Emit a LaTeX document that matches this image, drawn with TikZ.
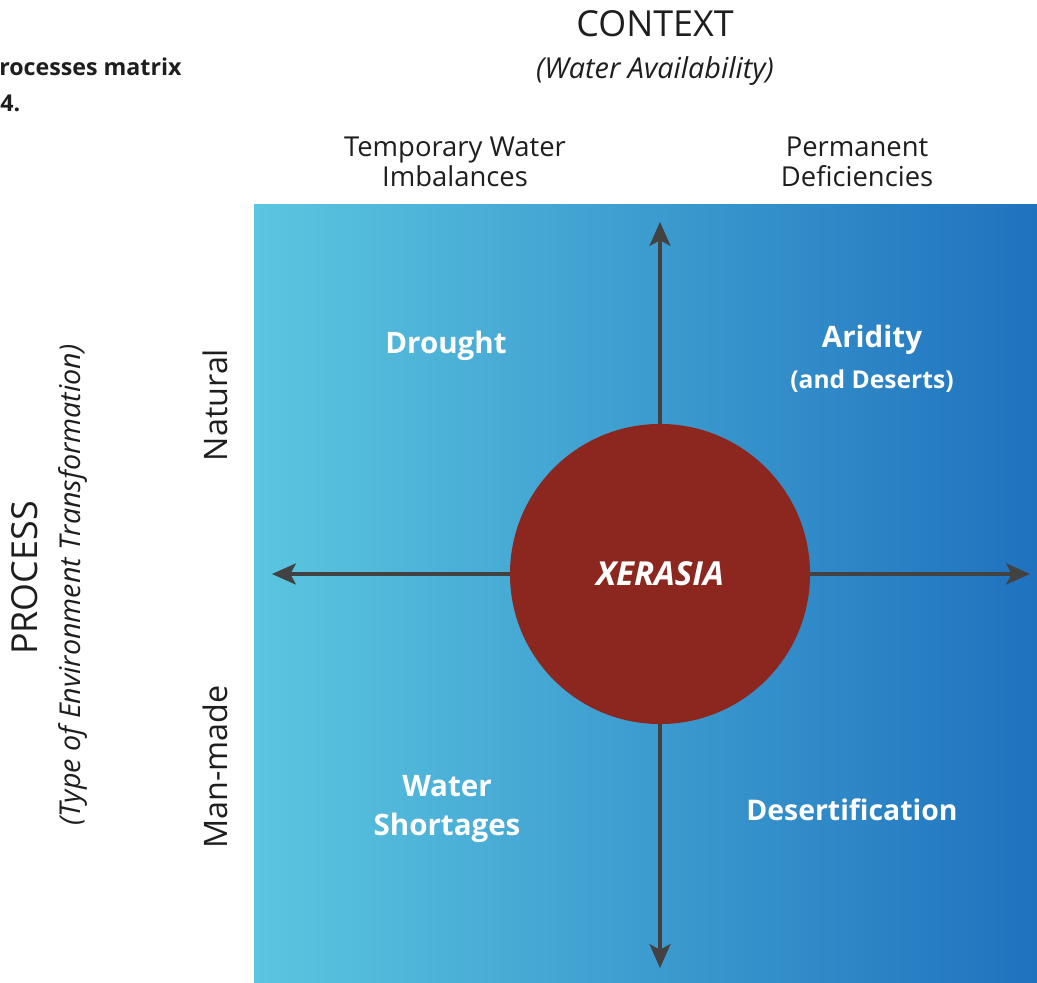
\documentclass[tikz,border=0pt]{standalone}
\usepackage{fontspec}
\setmainfont{Open Sans}
\usetikzlibrary{positioning,arrows.meta}
\definecolor{skyleft}{HTML}{5BC6E0}
\definecolor{skyright}{HTML}{1F72BE}
\definecolor{xerared}{HTML}{8B271F}
\definecolor{axisgray}{HTML}{424242}
\definecolor{inkdark}{HTML}{1E1E1E}
\tikzset{
axis/.style={draw=axisgray, line width=2.3pt, -{Stealth[length=17pt,width=15pt,inset=4pt]}}, % the four arms of the cross
quadrant/.style={text=white, align=center, font=\fontsize{21}{27.7}\selectfont\bfseries}, % labels inside the field
heading/.style={text=inkdark, align=center, font=\fontsize{19.5}{21.3}\selectfont},
sidelabel/.style={text=inkdark, rotate=90, font=\fontsize{23}{26}\selectfont},
}

\begin{document}
\begin{tikzpicture}[x=0.025cm, y=-0.025cm, on grid, inner sep=0pt]
   \useasboundingbox (0,0) rectangle (1037,983);
   % blue field, light on the left to dark on the right
   \shade[left color=skyleft, right color=skyright] (254,205) rectangle (1037,983);

   % caption left over from the page
   \node[anchor=west, text=inkdark, font=\fontsize{16.5}{20}\selectfont\bfseries] (cap1) at (-1,67) {rocesses matrix};
   \node[anchor=west, text=inkdark, font=\fontsize{16.5}{20}\selectfont\bfseries] (cap2) at (0,103) {4.};

   % column headings
   \node[text=inkdark, font=\fontsize{25.5}{30}\selectfont] (context) at (655,24) {CONTEXT};
   \node[text=inkdark, font=\fontsize{20.5}{22}\selectfont\itshape] (wateravail) [below=1.175cm of context] {(Water Availability)};
   \node[heading] (temporary) at (455,162) {Temporary Water\\Imbalances};
   \node[heading] (permanent) [right=10.05cm of temporary] {Permanent\\Deficiencies};

   % row headings
   \node[text=inkdark, rotate=90, font=\fontsize{25.5}{26}\selectfont] (process) at (25,578) {PROCESS};
   \node[text=inkdark, rotate=90, font=\fontsize{20.4}{24}\selectfont\itshape] (typeenv) at (73,585) {(Type of Environment Transformation)};
   \node[sidelabel] (natural) at (215,405) {Natural};
   \node[sidelabel] (manmade) at (215,767) {Man-made};

   % ends of the arms
   \coordinate (north) at (660,222);
   \coordinate (south) at (660,968);
   \coordinate (west) at (272,574);
   \coordinate (east) at (1030,574);

   \node[circle, fill=xerared, minimum size=7.5cm] (hub) at (660,574) {};
   \path (hub) edge[axis] (north)
         (hub) edge[axis] (south)
         (hub) edge[axis] (west)
         (hub) edge[axis] (east);
   \node[text=white, font=\fontsize{23.5}{26}\selectfont\bfseries\itshape] (xerasia) at (hub) {XERASIA};

   % the four quadrants
   \node[quadrant] (drought) at (446,346) {Drought};
   \node[quadrant] (aridity) at (872,340) {Aridity};
   \node[text=white, font=\fontsize{17.5}{20}\selectfont\bfseries] (deserts) [below=1.025cm of aridity] {(and Deserts)};
   \node[quadrant] (shortages) at (447,809) {Water\\Shortages};
   \node[quadrant, font=\fontsize{20.2}{27.7}\selectfont\bfseries] (desertification) at (852,810) {Desertification};
\end{tikzpicture}
\end{document}
